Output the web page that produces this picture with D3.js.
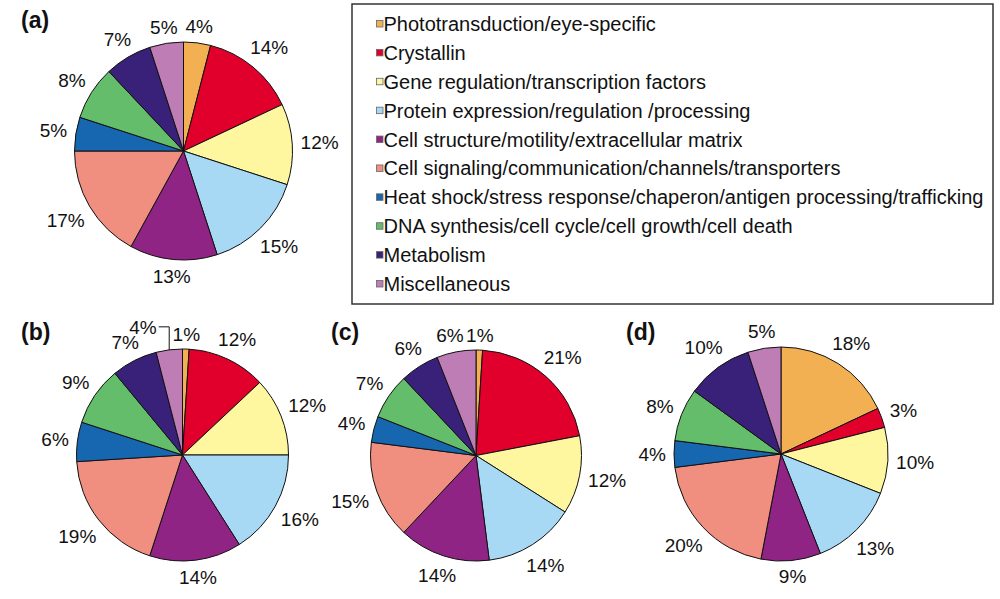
<!DOCTYPE html>
<html>
<head>
<meta charset="utf-8">
<script src="https://cdn.jsdelivr.net/npm/d3@7"></script>
<style>
  html, body { margin: 0; padding: 0; background: #fff; }
  svg { display: block; }
  text { font-family: "Liberation Sans", Arial, Helvetica, sans-serif; fill: #111; }
</style>
</head>
<body>
<svg id="chart" width="1000" height="599"></svg>
<script>
// ---------- data ----------
const categories = [
  "Phototransduction/eye-specific",
  "Crystallin",
  "Gene regulation/transcription factors",
  "Protein expression/regulation /processing",
  "Cell structure/motility/extracellular matrix",
  "Cell signaling/communication/channels/transporters",
  "Heat shock/stress response/chaperon/antigen processing/trafficking",
  "DNA synthesis/cell cycle/cell growth/cell death",
  "Metabolism",
  "Miscellaneous"
];
const colors = ["#F3B052", "#E1002B", "#FEF7A0", "#A7D8F4", "#8F2484",
                "#F08F80", "#1766B0", "#64BD6A", "#39217A", "#BE7DB5"];
const valuesA = [4, 14, 12, 15, 13, 17, 5, 8, 7, 5];
const valuesB = [1, 12, 12, 16, 14, 19, 6, 9, 7, 4];
const valuesC = [1, 21, 12, 14, 14, 15, 4, 7, 6, 6];
const valuesD = [18, 3, 10, 13, 9, 20, 4, 8, 10, 5];
const panelLabels = ["(a)", "(b)", "(c)", "(d)"];

// ---------- layout ----------
const svg = d3.select("#chart");
const panels = [
  { values: valuesA, cx: 183.5, cy: 151, r: 109, lx: 21, ly: 28 },
  { values: valuesB, cx: 182.5, cy: 455, r: 106, lx: 21, ly: 340, callout: 9 },
  { values: valuesC, cx: 476,   cy: 455.5, r: 105.5, lx: 331, ly: 340, nudge: { 9: -3 } },
  { values: valuesD, cx: 781,   cy: 454, r: 107, lx: 626, ly: 340 }
];
const labelFont = 19;
const gap = 8;

const pie = d3.pie().sort(null).value(d => d).startAngle(0).endAngle(2 * Math.PI);
const color = d3.scaleOrdinal().domain(d3.range(categories.length)).range(colors);

panels.forEach((p, pi) => {
  const g = svg.append("g").attr("transform", `translate(${p.cx},${p.cy})`);
  const arcs = pie(p.values);
  const arc = d3.arc().innerRadius(0).outerRadius(p.r);
  g.selectAll("path").data(arcs).enter().append("path")
    .attr("d", arc)
    .attr("fill", (d, i) => color(i))
    .attr("stroke", "#111")
    .attr("stroke-width", 1)
    .attr("stroke-linejoin", "round");

  const halfH = 0.716 * labelFont / 2;
  arcs.forEach((a, i) => {
    const t = g.append("text")
      .attr("font-size", labelFont)
      .attr("text-anchor", "middle")
      .text(a.data + "%");
    const w = t.node().getComputedTextLength();
    const mid = (a.startAngle + a.endAngle) / 2;
    const ux = Math.sin(mid), uy = -Math.cos(mid);
    if (p.callout === i) {
      // leader-line label
      const ex = p.r * ux, ey = p.r * uy;
      const ty = ey - 23;
      const tx = ex - 10.5 - w / 2 - 2;
      t.attr("x", tx).attr("y", ty + halfH);
      g.append("path")
        .attr("d", `M${tx + w / 2 + 2},${ty} H${ex} V${ey}`)
        .attr("fill", "none").attr("stroke", "#111").attr("stroke-width", 1);
      return;
    }
    const R = p.r + gap + (w / 2) * Math.abs(ux) + halfH * Math.abs(uy);
    const nx = (p.nudge && p.nudge[i]) || 0;
    t.attr("x", R * ux + nx).attr("y", R * uy + halfH);
  });

  svg.append("text")
    .attr("x", p.lx).attr("y", p.ly)
    .attr("font-size", 23).attr("font-weight", "bold")
    .text(panelLabels[pi]);
});

// ---------- legend ----------
const legend = svg.append("g");
legend.append("rect")
  .attr("x", 352).attr("y", 4).attr("width", 641).attr("height", 300)
  .attr("fill", "none").attr("stroke", "#333").attr("stroke-width", 1.5);
const rowY = d3.scalePoint().domain(d3.range(categories.length)).range([31, 291]);
categories.forEach((c, i) => {
  const y = rowY(i);
  legend.append("rect")
    .attr("x", 376.5).attr("y", y - 10.5).attr("width", 6.5).attr("height", 6.5)
    .attr("fill", color(i)).attr("stroke", "#666").attr("stroke-width", 0.8);
  legend.append("text")
    .attr("x", 383.5).attr("y", y)
    .attr("font-size", 20)
    .text(c);
});
</script>
</body>
</html>
